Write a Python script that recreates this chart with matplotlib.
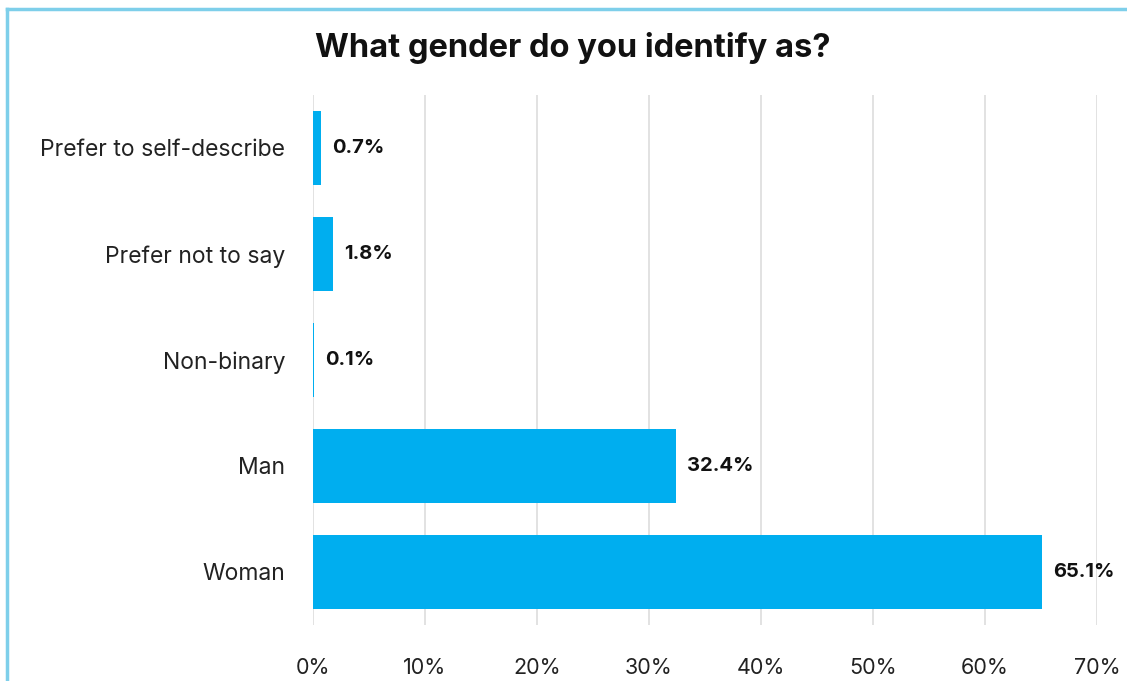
import matplotlib.pyplot as plt
from matplotlib.lines import Line2D

categories = ['Woman', 'Man', 'Non-binary', 'Prefer not to say', 'Prefer to self-describe']
shares = [65.1, 32.4, 0.1, 1.8, 0.7]
tick_values = [0, 10, 20, 30, 40, 50, 60, 70]

plt.rcParams['font.family'] = ['Inter', 'DejaVu Sans']

fig = plt.figure(figsize=(11.27, 6.81), dpi=100)
ax = fig.add_axes([313 / 1127, 1 - 625 / 681, (1097 - 313) / 1127, (625 - 95) / 681])

ypos = range(len(categories))
ax.barh(ypos, shares, height=0.7, color='#00AEEF', linewidth=0, zorder=3)
for y, v in zip(ypos, shares):
    ax.text(v + 1.0, y, f'{v}%', va='center', ha='left',
            fontsize=14.5, fontweight='bold', color='#111111')

ax.set_xlim(0, 70)
ax.set_ylim(-0.5, len(categories) - 0.5)
ax.set_xticks(tick_values)
ax.set_xticklabels([f'{t}%' for t in tick_values], fontsize=15.5, color='#222222')
ax.set_yticks(list(ypos))
ax.set_yticklabels(categories, fontsize=16.5, color='#222222')
ax.tick_params(axis='x', length=0, pad=24)
ax.tick_params(axis='y', length=0, pad=20)
ax.grid(axis='x', color='#DDDDDD', linewidth=1.2, zorder=0)
for s in ax.spines.values():
    s.set_visible(False)

fig.text(573 / 1127, 1 - 48 / 681, 'What gender do you identify as?',
         ha='center', va='center', fontsize=23.5, fontweight='bold', color='#111111')

# light blue frame (top and left edges visible)
fig.add_artist(Line2D([7 / 1127, 1], [1 - 9 / 681, 1 - 9 / 681],
                      transform=fig.transFigure, color='#7ECFEA', linewidth=2.5))
fig.add_artist(Line2D([7 / 1127, 7 / 1127], [0, 1 - 9 / 681],
                      transform=fig.transFigure, color='#7ECFEA', linewidth=2.5))

fig.savefig('out.png', dpi=100)
